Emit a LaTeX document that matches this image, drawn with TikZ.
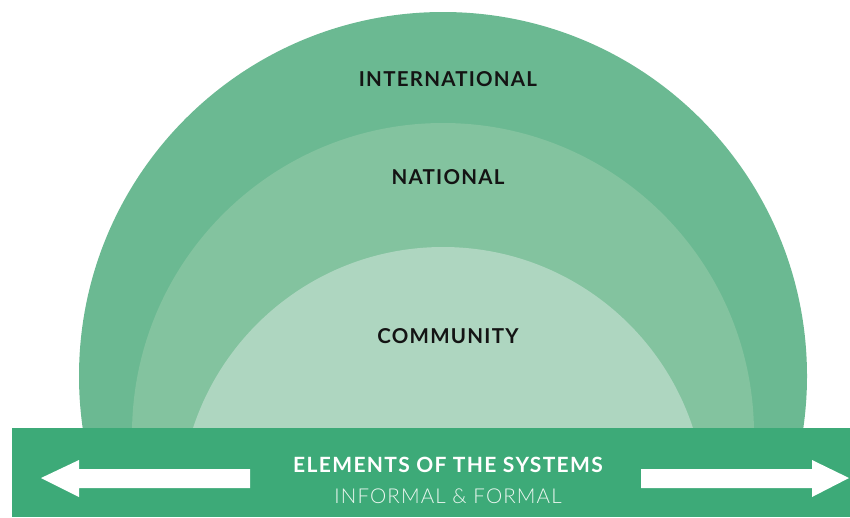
\documentclass[tikz,border=0pt]{standalone}
\usepackage{fontspec}
\setmainfont{Lato}
\newfontfamily\lightfont{Lato Light}
\definecolor{outerc}{RGB}{107,185,146}
\definecolor{midc}{RGB}{131,195,159}
\definecolor{innerc}{RGB}{174,214,192}
\definecolor{barc}{RGB}{61,170,120}
\definecolor{labc}{RGB}{20,20,20}
\tikzset{
  levellabel/.style={inner sep=0pt, text=labc, font=\bfseries\fontsize{20.5}{22}\selectfont\addfontfeatures{LetterSpace=6}},
  barlabel/.style={inner sep=0pt, text=white, font=\bfseries\fontsize{21}{22}\selectfont\addfontfeatures{LetterSpace=6.4}},
  sublabel/.style={inner sep=0pt, text=white!90!barc, font=\lightfont\fontsize{20.5}{22}\selectfont\addfontfeatures{LetterSpace=5.5}},
  arrowshape/.style={fill=white, draw=none}
}
\begin{document}
\begin{tikzpicture}[x=1pt,y=-1pt]
\useasboundingbox (0,0) rectangle (850,517);
\begin{scope}
  \clip (0,0) rectangle (850,428);
  \fill[outerc] (443,376) circle[radius=364pt];
  \fill[midc] (443,434) circle[radius=311pt];
  \fill[innerc] (443,510) circle[radius=263pt];
\end{scope}
\fill[barc] (12,428) rectangle (850,517);
% left arrow
\fill[arrowshape] (41,478) -- (79,460) -- (79,469) -- (250,469) -- (250,488) -- (79,488) -- (79,497) -- cycle;
% right arrow
\fill[arrowshape] (849,478) -- (812,460) -- (812,469) -- (641,469) -- (641,488) -- (812,488) -- (812,497) -- cycle;
\node[levellabel] (intl) at (448,79) {INTERNATIONAL};
\node[levellabel] (natl) at (448,177) {NATIONAL};
\node[levellabel] (comm) at (448,336) {COMMUNITY};
\node[barlabel] (elem) at (448,465) {ELEMENTS OF THE SYSTEMS};
\node[sublabel] (form) at (448,496) {INFORMAL \& FORMAL};
\end{tikzpicture}
\end{document}
